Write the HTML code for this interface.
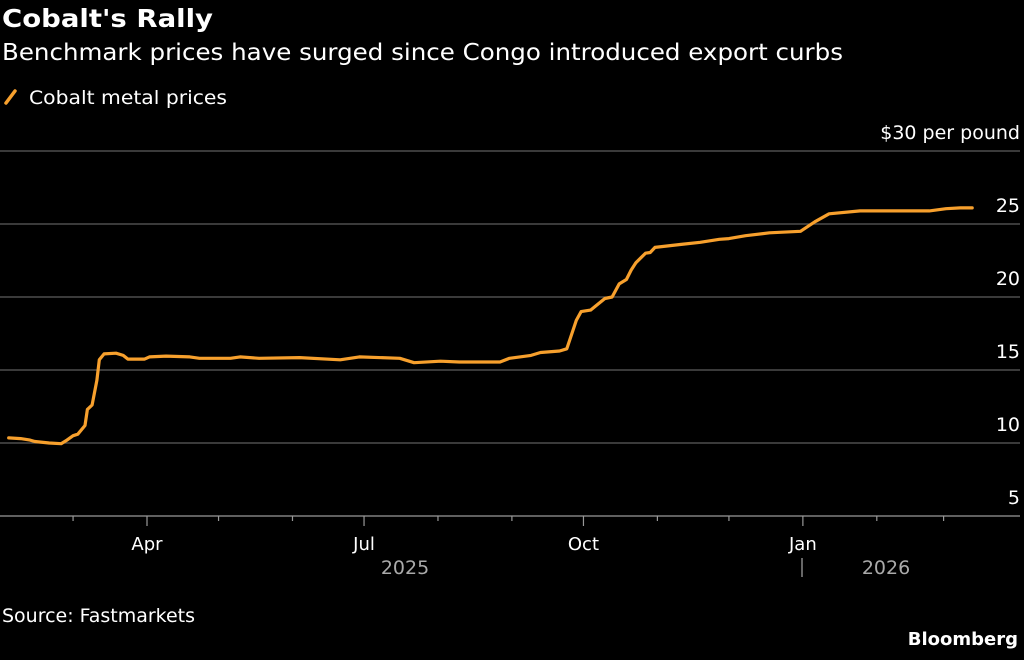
<!DOCTYPE html>
<html><head><meta charset="utf-8">
<style>
body{margin:0;background:#000;width:1024px;height:656px;overflow:hidden;font-family:"DejaVu Sans",sans-serif;color:#fff}
</style></head>
<body>
<svg width="1024" height="656" xmlns="http://www.w3.org/2000/svg" font-family="DejaVu Sans, sans-serif">
<text x="2" y="27" font-size="25" font-weight="bold" fill="#fff" textLength="211" lengthAdjust="spacingAndGlyphs">Cobalt's Rally</text>
<text x="2" y="60" font-size="23" fill="#fff" textLength="841" lengthAdjust="spacingAndGlyphs">Benchmark prices have surged since Congo introduced export curbs</text>
<g>
<line x1="6" y1="103" x2="15" y2="91" stroke="#f7a02d" stroke-width="3.5" stroke-linecap="round"/>
<text x="29" y="104" font-size="19" fill="#fff" textLength="198" lengthAdjust="spacingAndGlyphs">Cobalt metal prices</text>
</g>
<g id="grid"></g>
<g id="xaxis"></g>
<path id="line" fill="none" stroke="#f7a02d" stroke-width="3.2" stroke-linejoin="round" stroke-linecap="round"/>
<text x="405" y="574" font-size="19" fill="#aaa" text-anchor="middle">2025</text>
<line x1="802" y1="558" x2="802" y2="577" stroke="#aaa" stroke-width="1.2"/>
<text x="886" y="574" font-size="19" fill="#aaa" text-anchor="middle">2026</text>
<text x="2" y="622" font-size="19" fill="#fff" textLength="193" lengthAdjust="spacingAndGlyphs">Source: Fastmarkets</text>
<text x="1018" y="645" font-size="18" font-weight="bold" fill="#fff" text-anchor="end">Bloomberg</text>
</svg>
<script>
const days=[32,37,41,43,49,54,56,59,61,64,65,67,69,70,72,77,80,82,89,91,98,108,112,125,129,137,154,171,179,196,202,213,221,238,242,251,255,263,266,270,272,276,279,282,285,288,291,293,295,299,301,303,314,322,330,334,341,351,364,370,376,389,397,418,425,431,436];
const prices=[10.35,10.3,10.2,10.1,10.0,9.95,10.15,10.5,10.6,11.2,12.3,12.6,14.3,15.7,16.1,16.15,16.0,15.75,15.75,15.9,15.95,15.9,15.8,15.8,15.9,15.8,15.85,15.7,15.9,15.8,15.5,15.6,15.55,15.55,15.8,16.0,16.2,16.3,16.45,18.4,19.0,19.1,19.5,19.9,20.0,20.9,21.2,21.85,22.35,23.0,23.05,23.4,23.6,23.75,23.95,24.0,24.2,24.4,24.5,25.15,25.7,25.9,25.9,25.9,26.05,26.1,26.1];
const yTicks=[5,10,15,20,25,30];
const yTickLabels=["5","10","15","20","25","$30 per pound"];
const monthDays=[59,90,120,151,181,212,243,273,304,334,365,396,424];
const monthLabels=["","Apr","","","Jul","","","Oct","","","Jan","",""];
const NS="http://www.w3.org/2000/svg";
const x=d=>147+(d-90)*2.385;
const y=v=>516-(v-5)*14.6;
const grid=document.getElementById('grid');
yTicks.forEach((t,i)=>{
  const l=document.createElementNS(NS,'line');
  
  
  l.setAttribute('x1',0);l.setAttribute('x2',1020);
  l.setAttribute('y1',y(t));l.setAttribute('y2',y(t));
  l.setAttribute('stroke',i===0?'#999':'#5e5e5e');l.setAttribute('stroke-width',i===0?1.3:1.2);
  grid.appendChild(l);
  const tx=document.createElementNS(NS,'text');
  
  
  tx.setAttribute('x',1020);tx.setAttribute('y',y(t)-12);
  tx.setAttribute('text-anchor','end');tx.setAttribute('font-size','19');tx.setAttribute('fill','#fff');
  tx.textContent=yTickLabels[i];
  grid.appendChild(tx);
});
const xa=document.getElementById('xaxis');
monthDays.forEach((d,i)=>{
  const major=monthLabels[i]!=="";
  const l=document.createElementNS(NS,'line');
  
  
  l.setAttribute('x1',x(d));l.setAttribute('x2',x(d));
  l.setAttribute('y1',516);l.setAttribute('y2',major?526:521);
  l.setAttribute('stroke','#999');l.setAttribute('stroke-width',1.2);
  xa.appendChild(l);
  if(major){
    const tx=document.createElementNS(NS,'text');
    
    
    tx.setAttribute('x',x(d));tx.setAttribute('y',550);
    tx.setAttribute('text-anchor','middle');tx.setAttribute('font-size','18');tx.setAttribute('fill','#fff');
    tx.textContent=monthLabels[i];
    xa.appendChild(tx);
  }
});
document.getElementById('line').setAttribute('d',days.map((d,i)=>(i?'L':'M')+x(d).toFixed(1)+','+y(prices[i]).toFixed(1)).join(''));
</script>
</body></html>
